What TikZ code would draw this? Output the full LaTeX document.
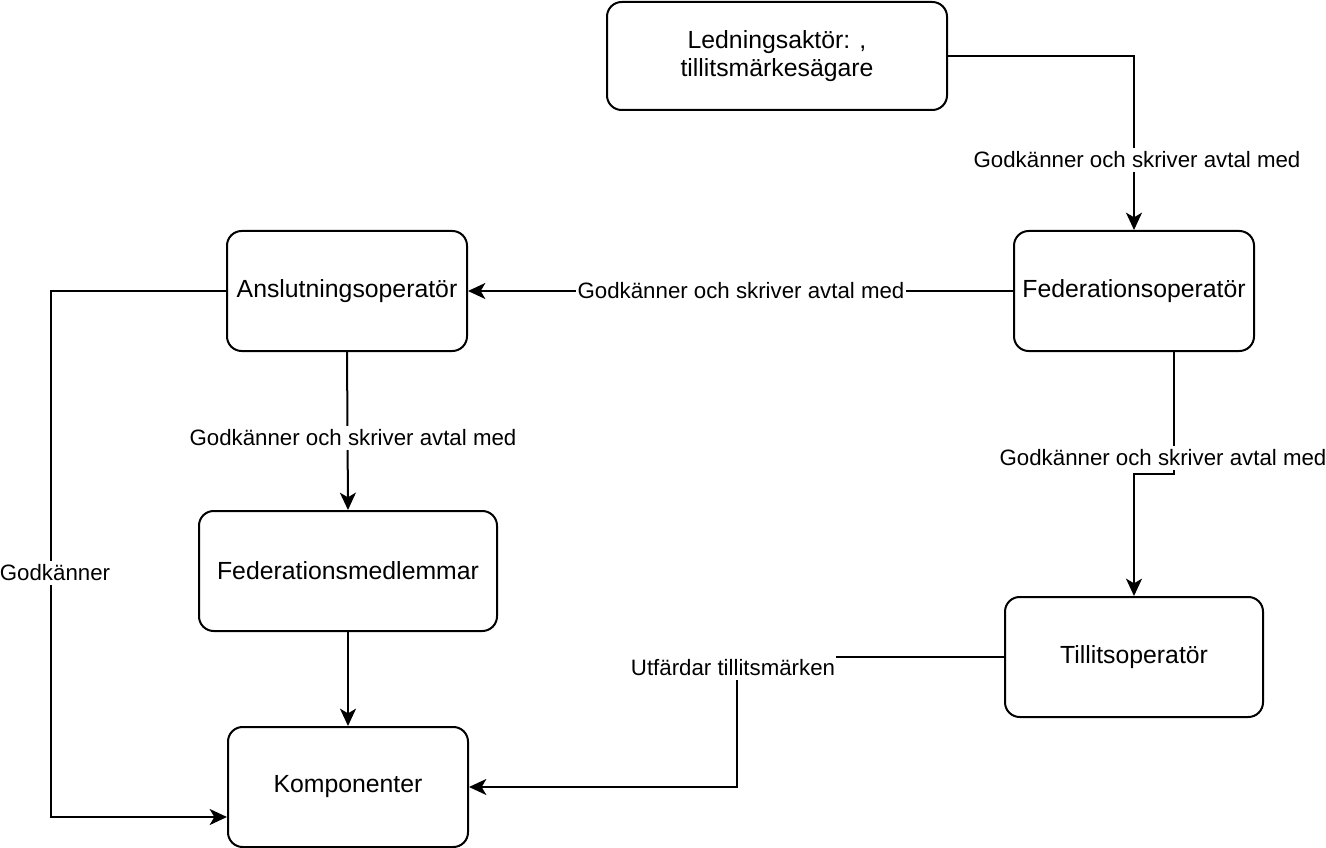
\documentclass[tikz,border=0pt]{standalone}
\usepackage{fontspec}
\setmainfont{Liberation Sans}
\usetikzlibrary{arrows.meta}
\begin{document}
\begin{tikzpicture}[x=0.75pt,y=-0.75pt,
  box/.style={draw, line width=1.5pt, rounded corners=11pt, align=center,
    font=\fontsize{18.6}{21.6}\selectfont, inner sep=0pt, minimum height=90pt},
  conn/.style={draw, line width=1.5pt, -{Stealth[length=13pt,width=12pt,inset=3.5pt]}},
  lbl/.style={fill=white, font=\fontsize{16.7}{19}\selectfont, inner xsep=1pt, inner ysep=2.5pt}]
\useasboundingbox (0,0) rectangle (1326,848);
\node[box, minimum width=255pt, minimum height=81pt] (led) at (777,56) {Ledningsaktör: ,\\tillitsmärkesägare};
\node[box, minimum width=180pt] (fedop) at (1134,291) {Federationsoperatör};
\node[box, minimum width=180pt] (ansl) at (347,291) {Anslutningsoperatör};
\node[box, minimum width=223.5pt] (fedmed) at (348,571) {Federationsmedlemmar};
\node[box, minimum width=180pt] (komp) at (348,787) {Komponenter};
\node[box, minimum width=193.5pt] (till) at (1134,657) {Tillitsoperatör};

\coordinate (c3) at (1174,474);
\coordinate (l1) at (51,291);
\coordinate (l2) at (51,817);
\coordinate (c7) at (737,657);

% Ledning -> Federationsoperator
\draw[conn] (led.east) -| (fedop.north);
\node[lbl] (lab1) at (1137,160) {Godkänner och skriver avtal med};

% Federationsoperator -> Anslutningsoperator
\draw[conn] (fedop.west) -- (ansl.east);
\node[lbl] (lab2) at (741,291) {Godkänner och skriver avtal med};

% Federationsoperator -> Tillitsoperator
\draw[conn] ([xshift=30pt]fedop.south) -- (c3) -| (till.north);
\node[lbl] (lab3) at (1163,458) {Godkänner och skriver avtal med};

% Anslutningsoperator -> Federationsmedlemmar
\draw[conn] (ansl.south) -- (fedmed.north);
\node[lbl] (lab4) at (353,438) {Godkänner och skriver avtal med};

% Federationsmedlemmar -> Komponenter
\draw[conn] (fedmed.south) -- (komp.north);

% Anslutningsoperator -> Komponenter
\draw[conn] (ansl.west) -- (l1) -- (l2) -- (komp.west |- l2);
\node[lbl] (lab6) at (55,573) {Godkänner};

% Tillitsoperator -> Komponenter
\draw[conn] (till.west) -- (c7) |- (komp.east);
\node[lbl] (lab7) at (733,668) {Utfärdar tillitsmärken};
\end{tikzpicture}
\end{document}
